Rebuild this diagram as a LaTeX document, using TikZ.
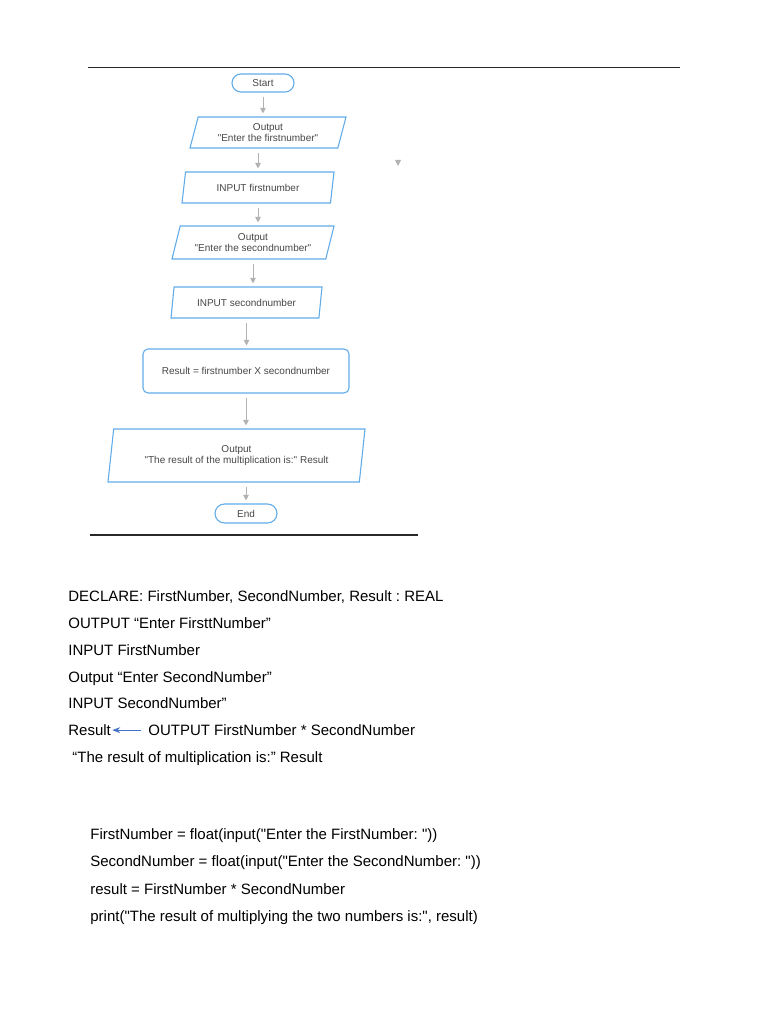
\documentclass[tikz,border=0pt]{standalone}
\usepackage{fontspec}
\setmainfont{Liberation Sans}
\newfontfamily\plainsans{Liberation Sans}
\usepackage{tikz}
\tikzset{every picture/.style={line width=0.75pt}}
\usetikzlibrary{shapes.geometric, shapes.misc, positioning, calc, arrows.meta}
\frenchspacing

\definecolor{flowblue}{RGB}{98,172,234}
\definecolor{flowtext}{RGB}{70,70,70}
\definecolor{arrowgray}{RGB}{178,178,178}
\definecolor{rulegray}{RGB}{40,40,40}
\definecolor{ptrblue}{RGB}{68,114,196}

\begin{document}
\begin{tikzpicture}[
	x=1pt, y=-1pt,
	>=Stealth,
	term/.style={rounded rectangle, draw=flowblue, line width=1.1pt, minimum width=62pt, minimum height=18pt, inner sep=0pt, font=\plainsans\fontsize{10}{11}\selectfont, text=flowtext},
	io/.style={trapezium, trapezium stretches body, draw=flowblue, line width=1.1pt, inner sep=0pt, align=center, font=\plainsans\fontsize{10}{11}\selectfont, text=flowtext},
	procbox/.style={rectangle, rounded corners=5pt, draw=flowblue, line width=1.1pt, inner sep=0pt, font=\plainsans\fontsize{10}{11}\selectfont, text=flowtext},
	flow/.style={-{Triangle[length=5.5pt, width=5.5pt]}, draw=arrowgray, line width=0.9pt, shorten <=4pt, shorten >=3pt},
	codeline/.style={anchor=base west, inner sep=0pt, font=\plainsans\fontsize{15}{18}\selectfont},
	ptr/.style={->, draw=ptrblue, line width=1.1pt, shorten <=7pt, shorten >=1pt}
	]
	
	\useasboundingbox (0,0) rectangle (768,1024);
	
	% --- FLOWCHART FRAME ---
	\draw[rulegray, line width=1pt] (88,68) -- (680,68);
	\draw[rulegray, line width=1.6pt] (90,535) -- (418,535);
	
	% stray arrow tip
	\fill[arrowgray] (395,160) -- (401,160) -- (398,166) -- cycle;
	
	% --- FLOWCHART NODES ---
	\node[term] (start) at (263,83) {Start};
	\node[io, trapezium left angle=65.7, trapezium right angle=114.3, minimum width=156pt, minimum height=31pt]
		(out1) at (268,132.5) {Output\\"Enter the firstnumber"};
	\node[io, trapezium left angle=64.2, trapezium right angle=115.8, minimum width=152pt, minimum height=31pt]
		(in1) at (258,187.5) {INPUT firstnumber};
	\node[io, trapezium left angle=65.6, trapezium right angle=114.4, minimum width=162pt, minimum height=33pt]
		(out2) at (253,242.5) {Output\\"Enter the secondnumber"};
	\node[io, trapezium left angle=67.2, trapezium right angle=112.8, minimum width=151pt, minimum height=31pt]
		(in2) at (246.5,302.5) {INPUT secondnumber};
	\node[procbox, minimum width=206pt, minimum height=44pt] (calc) at (246,371) {Result = firstnumber X secondnumber};
	\node[io, trapezium left angle=74.2, trapezium right angle=105.8, minimum width=257pt, minimum height=53pt]
		(out3) at (236.5,455.5) {Output\\"The result of the multiplication is:" Result};
	\node[term, minimum height=19pt] (stop) at (246,513.5) {End};
	
	% --- FLOWCHART CONNECTORS ---
	\draw[flow] (start.south) -- (start.south |- out1.north);
	\draw[flow] (in1.north |- out1.south) -- (in1.north);
	\draw[flow] (in1.south) -- (in1.south |- out2.north);
	\draw[flow] (out2.south) -- (out2.south |- in2.north);
	\draw[flow] (in2.south) -- (in2.south |- calc.north);
	\draw[flow] (calc.south) -- (calc.south |- out3.north);
	\draw[flow] (stop.north |- out3.south) -- (stop.north);
	
	% --- PSEUDOCODE ---
	\node[codeline] (decl) at (68,601) {DECLARE: FirstNumber, SecondNumber, Result : REAL};
	\node[codeline] (ps1) at (68,628) {OUTPUT “Enter FirsttNumber”};
	\node[codeline] (ps2) at (68,655) {INPUT FirstNumber};
	\node[codeline] (ps3) at (68,682) {Output “Enter SecondNumber”};
	\node[codeline] (ps4) at (68,708.5) {INPUT SecondNumber”};
	\node[codeline] (res) at (68,735.5) {Result};
	\node[codeline] (outmul) at (148,735.5) {OUTPUT FirstNumber * SecondNumber};
	\node[codeline] (ps6) at (72,762) {“The result of multiplication is:” Result};
	
	\draw[ptr] (outmul.west) -- (outmul.west -| res.east);
	
	% --- PYTHON ---
	\node[codeline] (py1) at (90,839) {FirstNumber = float(input("Enter the FirstNumber: "))};
	\node[codeline] (py2) at (90,866) {SecondNumber = float(input("Enter the SecondNumber: "))};
	\node[codeline] (py3) at (90,894) {result = FirstNumber * SecondNumber};
	\node[codeline] (py4) at (90,921) {print("The result of multiplying the two numbers is:", result)};
	
\end{tikzpicture}
\end{document}
